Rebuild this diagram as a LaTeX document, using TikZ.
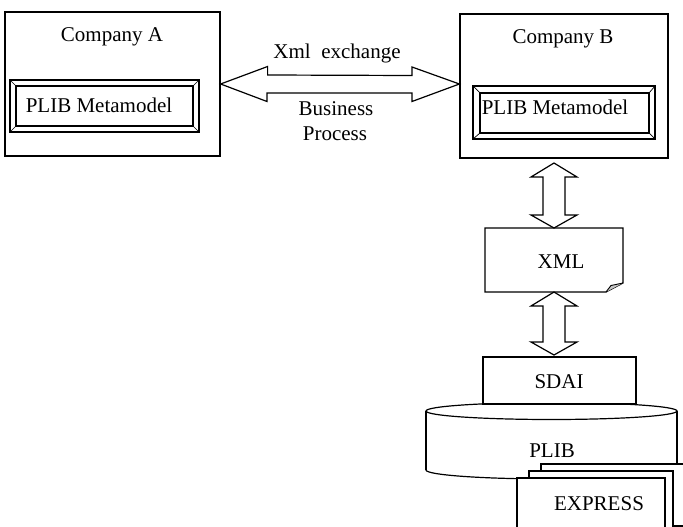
\documentclass[tikz,border=0pt]{standalone}
\usepackage{fontspec}
\setmainfont{Liberation Serif}
\begin{document}
\begin{tikzpicture}[x=1pt,y=-1pt,
  every node/.style={font=\fontsize{21}{25}\selectfont, inner sep=0pt},
  frame/.style={draw, line width=1.2pt, fill=white},
  bevelout/.style={draw, line width=1.8pt},
  bevelin/.style={draw, line width=1.6pt},
  bevelline/.style={draw, line width=0.7pt},
  blk/.style={draw, line width=1.2pt, fill=white, line join=miter},
  txt/.style={anchor=base}]
\useasboundingbox (0,0) rectangle (683,527);
\clip (0,0) rectangle (683,527);

% block double arrows
\newcommand\vdarrow[3]{%
  \draw[blk] (#1,#2) -- (#1+23,#2+14) -- (#1+11,#2+14) -- (#1+11,#3-13) -- (#1+23,#3-13) -- (#1,#3)
    -- (#1-23,#3-13) -- (#1-11,#3-13) -- (#1-11,#2+14) -- (#1-23,#2+14) -- cycle;}
\newcommand\bevelbox[8]{% outer x1 y1 x2 y2, inner x1 y1 x2 y2
  \draw[bevelout] (#1,#2) rectangle (#3,#4);
  \draw[bevelin] (#5,#6) rectangle (#7,#8);
  \draw[bevelline] (#1,#2) -- (#5,#6) (#3,#2) -- (#7,#6) (#1,#4) -- (#5,#8) (#3,#4) -- (#7,#8);}

% Company A
\node[frame, minimum width=215, minimum height=144] (compA) at (112.5,84) {};
\node[txt] (compAt) at (112,42) {Company A};
\bevelbox{10}{80}{199}{132}{16}{86}{193}{126}
\node[txt] (metaA) at (99,112) {PLIB Metamodel};

% Company B
\node[frame, minimum width=208, minimum height=144] (compB) at (564,86) {};
\node[txt] (compBt) at (563,44) {Company B};
\bevelbox{473}{86}{655}{139}{480}{93}{649}{133}
\node[txt] (metaB) at (555,114) {PLIB Metamodel};

% horizontal double arrow between companies
\coordinate (hL) at (compA.east |- 0,84);
\coordinate (hR) at (compB.west |- 0,84);
\draw[blk] (hL) -- ++(47,-17.5) -- ++(0,8.5) -- (412,75.5) -- (412,67) -- (hR) -- (412,101.5) -- (412,93) -- (267,93) -- (267,101.5) -- cycle;
\node[txt] (xmlex) at (337,59) {Xml\ \ exchange};
\node[txt] (bus) at (336,115) {Business};
\node[txt] (proc) at (335,140) {Process};

% XML document
\draw[line width=1.2pt, fill=white] (485,228) -- (623,228) -- (623,283) -- (606,292) -- (485,292) -- cycle;
\draw[line width=0.9pt, fill=gray!45] (623,283) -- (611,285.5) -- (606,292);
\node[txt] (xml) at (561,268) {XML};
\coordinate (xmlN) at (554,228);
\coordinate (xmlS) at (554,292);

% vertical arrows
\vdarrow{554}{163}{228}
\vdarrow{554}{292}{355}

% PLIB cylinder
\draw[line width=1.2pt, fill=white] (551.5,470) ellipse [x radius=125.5, y radius=9];
\fill[white] (426,411) rectangle (677,470);
\draw[line width=1.2pt] (426,411) -- (426,470) (677,411) -- (677,470);
\draw[line width=1.2pt, fill=white] (551.5,411) ellipse [x radius=125.5, y radius=8.5];
\node[txt] (plib) at (552,457) {PLIB};

% SDAI
\node[frame, minimum width=153, minimum height=47] (sdai) at (559.5,380.5) {};
\node[txt] (sdait) at (559,388) {SDAI};

% EXPRESS pages
\draw[line width=1.3pt, fill=white] (541,464) rectangle (700,526);
\draw[line width=1.3pt, fill=white] (529,471) rectangle (673,545);
\draw[line width=1.3pt, fill=white] (517,478) rectangle (665,545);
\node[txt] (express) at (599,510) {EXPRESS};
\end{tikzpicture}
\end{document}
